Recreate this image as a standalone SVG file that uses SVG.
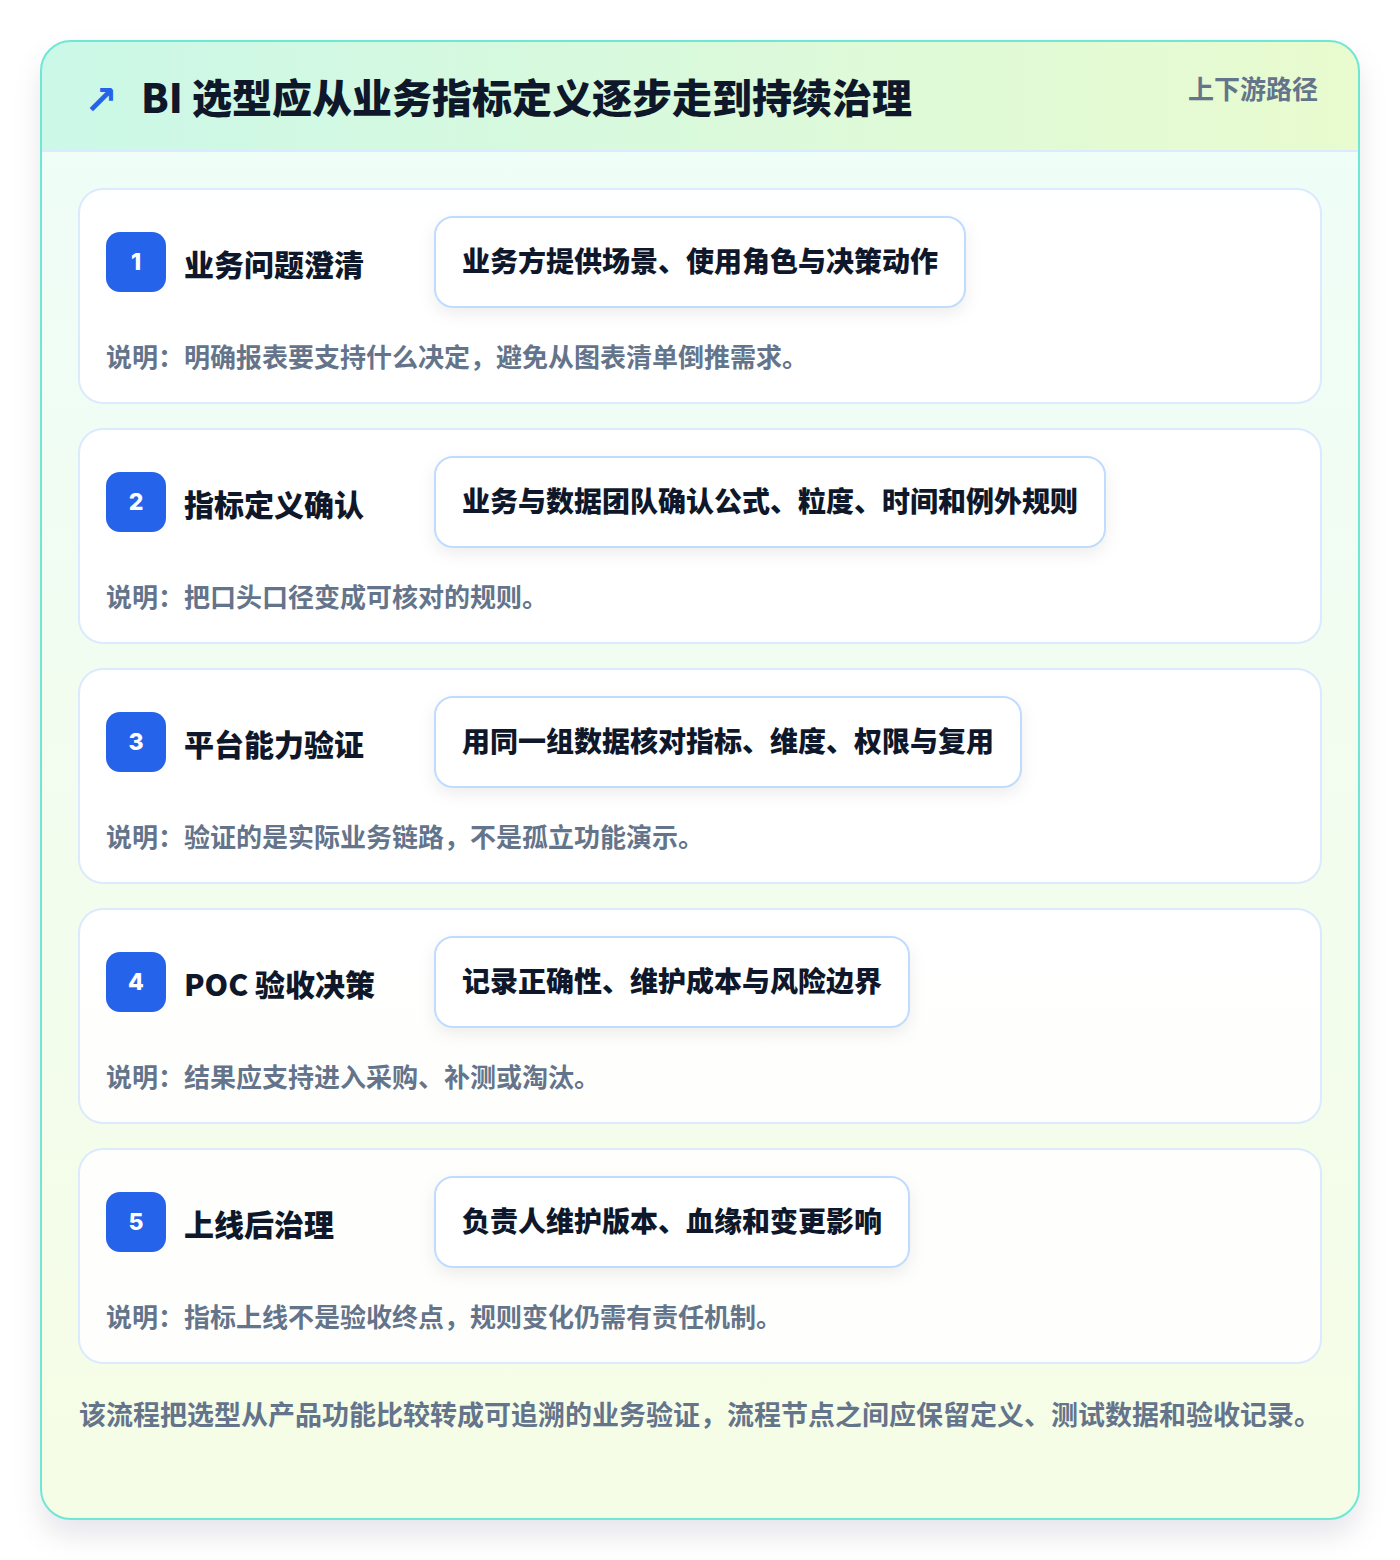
<svg xmlns="http://www.w3.org/2000/svg" width="1400" height="1560" viewBox="0 0 1400 1560">
<defs>
<linearGradient id="bodyG" x1="0" y1="0" x2="0" y2="1">
<stop offset="0" stop-color="#effdf9"/>
<stop offset="1" stop-color="#f6fde6"/>
</linearGradient>
<linearGradient id="headG" x1="0" y1="0" x2="1" y2="0">
<stop offset="0" stop-color="#cbf8e8"/>
<stop offset="1" stop-color="#e9fbcf"/>
</linearGradient>
<clipPath id="cardClip"><rect x="41" y="41" width="1318" height="1478" rx="30"/></clipPath>
<filter id="outerShadow" x="-10%" y="-10%" width="120%" height="120%">
<feDropShadow dx="0" dy="16" stdDeviation="14" flood-color="#0f172a" flood-opacity="0.10"/>
</filter>
<filter id="boxShadow" x="-10%" y="-30%" width="120%" height="160%">
<feDropShadow dx="0" dy="6" stdDeviation="8" flood-color="#0f172a" flood-opacity="0.07"/>
</filter>
</defs>
<style>
.card{fill:#ffffff;fill-opacity:0.9;stroke:#dbeafe;stroke-width:2}
.badge{fill:#2563eb}
.num{font-family:Inter,"Noto Sans","Noto Sans CJK SC",sans-serif;font-weight:800;font-size:23px;fill:#ffffff;text-anchor:middle}
.title{font-family:"Noto Sans CJK SC",sans-serif;font-weight:800;font-size:30px;fill:#0f172a}
.box{fill:#ffffff;stroke:#bfdbfe;stroke-width:2}
.boxt{font-family:"Noto Sans CJK SC",sans-serif;font-weight:800;font-size:28px;fill:#0f172a}
.desc{font-family:"Noto Sans CJK SC",sans-serif;font-weight:700;font-size:26px;fill:#64748b}
.head{font-family:"Noto Sans CJK SC",sans-serif;font-weight:800;font-size:40px;fill:#0f172a}
.tag{font-family:"Noto Sans CJK SC",sans-serif;font-weight:700;font-size:26px;fill:#64748b;text-anchor:end}
.foot{font-family:"Noto Sans CJK SC",sans-serif;font-weight:700;font-size:27px;fill:#64748b}
.icon{font-family:"DejaVu Sans",sans-serif;font-weight:700;font-size:40px;fill:#2563eb}
</style>
<rect width="1400" height="1560" fill="#ffffff"/>
<g id="frame">
<rect x="41" y="41" width="1318" height="1478" rx="30" fill="url(#bodyG)" filter="url(#outerShadow)"/>
<g clip-path="url(#cardClip)">
<rect x="41" y="41" width="1318" height="110" fill="url(#headG)"/>
<line x1="41" y1="151" x2="1359" y2="151" stroke="#dbeafe" stroke-width="2"/>
</g>
<rect x="41" y="41" width="1318" height="1478" rx="30" fill="none" stroke="#6ee7d4" stroke-width="2"/>
</g>
<g id="header">
<text class="icon" x="84" y="114">↗</text>
<text class="head" x="141" y="113">BI 选型应从业务指标定义逐步走到持续治理</text>
<text class="tag" x="1318" y="99">上下游路径</text>
</g>
<g id="step1">
<rect class="card" x="79" y="189" width="1242" height="214" rx="24"/>
<rect class="badge" x="106" y="232" width="60" height="60" rx="14"/>
<text class="num" x="136" y="270">1</text>
<text class="title" x="184" y="276">业务问题澄清</text>
<rect class="box" x="435" y="217" width="530" height="90" rx="18" filter="url(#boxShadow)"/>
<text class="boxt" x="462" y="272">业务方提供场景、使用角色与决策动作</text>
<text class="desc" x="106" y="367">说明：明确报表要支持什么决定，避免从图表清单倒推需求。</text>
</g>
<g id="step2">
<rect class="card" x="79" y="429" width="1242" height="214" rx="24"/>
<rect class="badge" x="106" y="472" width="60" height="60" rx="14"/>
<text class="num" x="136" y="510">2</text>
<text class="title" x="184" y="516">指标定义确认</text>
<rect class="box" x="435" y="457" width="670" height="90" rx="18" filter="url(#boxShadow)"/>
<text class="boxt" x="462" y="512">业务与数据团队确认公式、粒度、时间和例外规则</text>
<text class="desc" x="106" y="607">说明：把口头口径变成可核对的规则。</text>
</g>
<g id="step3">
<rect class="card" x="79" y="669" width="1242" height="214" rx="24"/>
<rect class="badge" x="106" y="712" width="60" height="60" rx="14"/>
<text class="num" x="136" y="750">3</text>
<text class="title" x="184" y="756">平台能力验证</text>
<rect class="box" x="435" y="697" width="586" height="90" rx="18" filter="url(#boxShadow)"/>
<text class="boxt" x="462" y="752">用同一组数据核对指标、维度、权限与复用</text>
<text class="desc" x="106" y="847">说明：验证的是实际业务链路，不是孤立功能演示。</text>
</g>
<g id="step4">
<rect class="card" x="79" y="909" width="1242" height="214" rx="24"/>
<rect class="badge" x="106" y="952" width="60" height="60" rx="14"/>
<text class="num" x="136" y="990">4</text>
<text class="title" x="184" y="996">POC 验收决策</text>
<rect class="box" x="435" y="937" width="474" height="90" rx="18" filter="url(#boxShadow)"/>
<text class="boxt" x="462" y="992">记录正确性、维护成本与风险边界</text>
<text class="desc" x="106" y="1087">说明：结果应支持进入采购、补测或淘汰。</text>
</g>
<g id="step5">
<rect class="card" x="79" y="1149" width="1242" height="214" rx="24"/>
<rect class="badge" x="106" y="1192" width="60" height="60" rx="14"/>
<text class="num" x="136" y="1230">5</text>
<text class="title" x="184" y="1236">上线后治理</text>
<rect class="box" x="435" y="1177" width="474" height="90" rx="18" filter="url(#boxShadow)"/>
<text class="boxt" x="462" y="1232">负责人维护版本、血缘和变更影响</text>
<text class="desc" x="106" y="1327">说明：指标上线不是验收终点，规则变化仍需有责任机制。</text>
</g>
<g id="connectors"></g>
<g id="footer">
<text class="foot" x="79" y="1425">该流程把选型从产品功能比较转成可追溯的业务验证，流程节点之间应保留定义、测试数据和验收记录。</text>
</g>
</svg>
